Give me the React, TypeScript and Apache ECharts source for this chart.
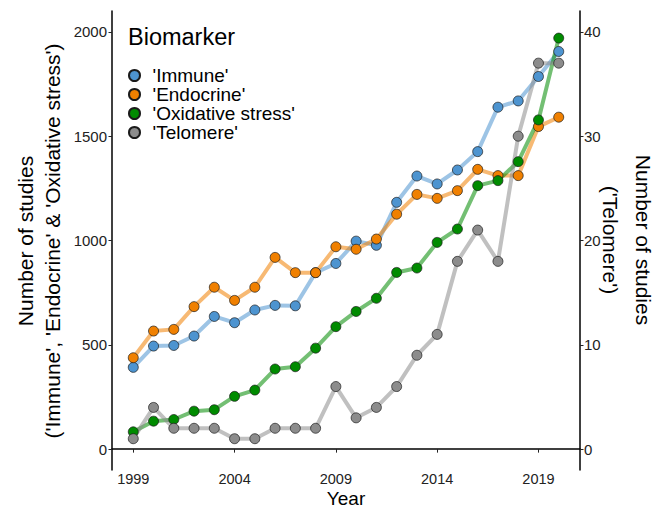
import React, { useEffect, useRef } from "react";
import * as echarts from "echarts";

const years = [1999, 2000, 2001, 2002, 2003, 2004, 2005, 2006, 2007, 2008, 2009, 2010, 2011, 2012, 2013, 2014, 2015, 2016, 2017, 2018, 2019, 2020];
const immune = [392, 494, 497, 542, 636, 606, 667, 689, 687, 846, 890, 997, 977, 1183, 1309, 1271, 1338, 1426, 1639, 1669, 1786, 1906];
const endocrine = [438, 566, 574, 683, 776, 713, 776, 919, 846, 846, 970, 958, 1007, 1126, 1221, 1202, 1239, 1341, 1311, 1311, 1546, 1591];
const oxidative = [83, 134, 142, 182, 189, 253, 283, 384, 395, 484, 587, 660, 723, 847, 868, 991, 1055, 1263, 1287, 1378, 1578, 1970];
const telomere = [1, 4, 2, 2, 2, 1, 1, 2, 2, 2, 6, 3, 4, 6, 9, 11, 18, 21, 18, 30, 37, 37];

const xTicks = [1999, 2004, 2009, 2014, 2019];
const leftTicks = [0, 500, 1000, 1500, 2000];
const rightTicks = [0, 10, 20, 30, 40];

const seriesNames = ["'Immune'", "'Endocrine'", "'Oxidative stress'", "'Telomere'"];
const seriesColors = ["#4d94d0", "#f08000", "#008b00", "#8c8c8c"];

const FONT = "'Liberation Sans', Arial, sans-serif";

export default function App() {
  const ref = useRef<HTMLDivElement>(null);
  useEffect(() => {
    if (!ref.current) return;
    const chart = echarts.init(ref.current, null, { renderer: "svg" });
    const allValues = [immune, endocrine, oxidative, telomere];
    const pts = allValues.map((vals) => years.map((y, i) => [y, vals[i]]));

    const scatterSeries = seriesNames.map((name, k) => ({
      type: "scatter",
      name,
      data: pts[k],
      yAxisIndex: k === 3 ? 1 : 0,
      symbol: "circle",
      symbolSize: 10,
      z: 4,
      itemStyle: { color: seriesColors[k], borderColor: "#1a1a1a", borderWidth: 0.7, opacity: 1 },
      emphasis: { disabled: true },
    }));
    const lineSeries = seriesNames.map((name, k) => ({
      type: "line",
      name,
      data: pts[k],
      yAxisIndex: k === 3 ? 1 : 0,
      showSymbol: false,
      z: 2,
      lineStyle: { color: seriesColors[k], width: 4, opacity: 0.55 },
      itemStyle: { color: seriesColors[k] },
      emphasis: { disabled: true },
    }));

    const axisCommon = {
      axisLine: { show: true, lineStyle: { color: "#000", width: 1.5 } },
      axisTick: { show: true, length: 3.5, lineStyle: { color: "#222", width: 1 } },
      splitLine: { show: false },
    };
    const fmt = (v: number) => String(v);

    chart.setOption({
      animation: false,
      textStyle: { fontFamily: FONT },
      grid: { left: 112, right: 84, top: 11, bottom: 38 },
      xAxis: {
        type: "value",
        min: 1997.95,
        max: 2021.05,
        ...axisCommon,
        axisTick: { ...axisCommon.axisTick, customValues: xTicks },
        axisLabel: {
          customValues: xTicks,
          formatter: fmt,
          color: "#222",
          fontSize: 14.5,
          lineHeight: 14,
          margin: 2,
          fontFamily: FONT,
        },
      },
      yAxis: [
        {
          type: "value",
          position: "left",
          min: -100,
          max: 2100,
          ...axisCommon,
          axisTick: { ...axisCommon.axisTick, customValues: leftTicks },
          axisLabel: { customValues: leftTicks, formatter: fmt, color: "#222", fontSize: 15, margin: 5, fontFamily: FONT },
        },
        {
          type: "value",
          position: "right",
          min: -2,
          max: 42,
          ...axisCommon,
          axisTick: { ...axisCommon.axisTick, customValues: rightTicks },
          axisLabel: { customValues: rightTicks, formatter: fmt, color: "#222", fontSize: 15, margin: 4, fontFamily: FONT },
        },
      ],
      legend: {
        data: seriesNames.map((n) => ({ name: n, icon: "circle" })),
        orient: "vertical",
        left: 123,
        top: 61,
        itemWidth: 26,
        itemHeight: 11,
        itemGap: 0,
        selectedMode: false,
        textStyle: { fontSize: 19, lineHeight: 18.3, color: "#000", fontFamily: FONT },
      },
      graphic: [
        {
          type: "text",
          x: 128,
          y: 37,
          style: { text: "Biomarker", fontSize: 23.5, fill: "#000", fontFamily: FONT, textAlign: "left", textVerticalAlign: "middle" },
        },
        {
          type: "text",
          x: 346,
          y: 498.5,
          style: { text: "Year", fontSize: 19, lineHeight: 19, fill: "#000", fontFamily: FONT, textAlign: "center", textVerticalAlign: "middle" },
        },
        {
          type: "text",
          x: 25,
          y: 241,
          rotation: Math.PI / 2,
          style: { text: "Number of studies", fontSize: 21, fill: "#000", fontFamily: FONT, textAlign: "center", textVerticalAlign: "middle" },
        },
        {
          type: "text",
          x: 52,
          y: 241,
          rotation: Math.PI / 2,
          style: { text: "('Immune', 'Endocrine' & 'Oxidative stress')", fontSize: 21, fill: "#000", fontFamily: FONT, textAlign: "center", textVerticalAlign: "middle" },
        },
        {
          type: "text",
          x: 643,
          y: 240,
          rotation: -Math.PI / 2,
          style: { text: "Number of studies", fontSize: 21, fill: "#000", fontFamily: FONT, textAlign: "center", textVerticalAlign: "middle" },
        },
        {
          type: "text",
          x: 610,
          y: 240,
          rotation: -Math.PI / 2,
          style: { text: "('Telomere')", fontSize: 21, fill: "#000", fontFamily: FONT, textAlign: "center", textVerticalAlign: "middle" },
        },
      ],
      series: [...scatterSeries, ...lineSeries],
    });
    return () => chart.dispose();
  }, []);
  return <div ref={ref} style={{ position: "fixed", left: 0, top: 0, width: 664, height: 508, background: "#fff" }} />;
}
